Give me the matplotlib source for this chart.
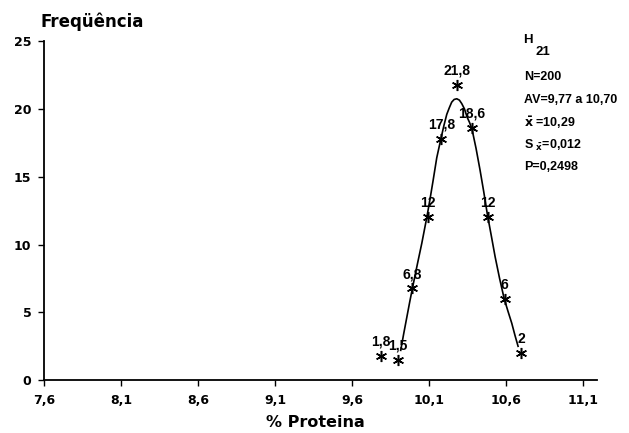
import matplotlib
matplotlib.use('Agg')
import matplotlib.pyplot as plt

# class midpoints (% protein) and observed frequency (%)
proteina = [9.79, 9.90, 9.99, 10.09, 10.18, 10.28, 10.38, 10.48, 10.59, 10.70]
frequencia = [1.8, 1.5, 6.8, 12, 17.8, 21.8, 18.6, 12, 6, 2]
rotulos = ['1,8', '1,5', '6,8', '12', '17,8', '21,8', '18,6', '12', '6', '2']

# smooth fitted curve
curva_x = [9.916, 9.935, 9.955, 9.975, 9.996, 10.025, 10.053, 10.087,
           10.107, 10.126, 10.150, 10.177, 10.197, 10.215, 10.232, 10.247,
           10.263, 10.280, 10.297, 10.312, 10.330, 10.347, 10.363, 10.379,
           10.405, 10.431, 10.455, 10.479, 10.505, 10.529, 10.558, 10.588,
           10.612, 10.637, 10.658, 10.678]
curva_y = [2.2, 3.4, 4.6, 5.8, 7.0, 8.6, 10.1, 12.1, 13.4, 14.7, 16.4,
           17.8, 18.8, 19.6, 20.1, 20.5, 20.7, 20.75, 20.65, 20.4, 20.0,
           19.4, 19.0, 18.5, 17.1, 15.5, 13.9, 12.2, 10.6, 9.1, 7.5, 6.0,
           5.1, 4.2, 3.3, 2.5]

xticks = [7.6, 8.1, 8.6, 9.1, 9.6, 10.1, 10.6, 11.1]
xtick_labels = ['7,6', '8,1', '8,6', '9,1', '9,6', '10,1', '10,6', '11,1']
yticks = [0, 5, 10, 15, 20, 25]

info = ['N=200', 'AV=9,77 a 10,70', r'$\bar{x}$ =10,29',
        r'S $_{\bar{x}}$=0,012', 'P=0,2498']

LIB = ['Liberation Sans', 'DejaVu Sans']
DJV = ['DejaVu Sans']


def main():
    plt.rcParams['font.family'] = LIB
    plt.rcParams['font.weight'] = 'bold'
    plt.rcParams['mathtext.default'] = 'bf'

    fig = plt.figure(figsize=(6.29, 4.33), dpi=100)
    ax = fig.add_axes([0.070, 0.122, 0.879, 0.783])

    ax.plot(curva_x, curva_y, color='black', lw=1.2)
    ax.plot(proteina, frequencia, linestyle='none', marker=(6, 2, 0),
            markersize=8, mew=1.1, color='black')
    for x, y, t in zip(proteina, frequencia, rotulos):
        ax.annotate(t, (x, y), xytext=(0, 5), textcoords='offset points',
                    ha='center', va='bottom', fontsize=10, fontweight='bold')

    ax.set_xlim(7.6, 11.19)
    ax.set_ylim(0, 25)
    ax.set_xticks(xticks)
    ax.set_xticklabels(xtick_labels)
    ax.set_yticks(yticks)
    for s in ['top', 'right']:
        ax.spines[s].set_visible(False)
    for s in ['left', 'bottom']:
        ax.spines[s].set_linewidth(1.3)
    ax.tick_params(direction='out', length=4, width=1)
    ax.tick_params(axis='x', pad=6)
    ax.tick_params(axis='y', pad=5)
    for lab in ax.get_xticklabels() + ax.get_yticklabels():
        lab.set_fontweight('bold')
        lab.set_family(DJV)
        lab.set_fontsize(9)

    fig.text(0.064, 0.949, 'Freqüência', fontsize=12, fontweight='bold',
             va='center', ha='left', family=DJV)
    fig.text(0.502, 0.025, '% Proteina', fontsize=11.5, fontweight='bold',
             va='center', ha='center', family=DJV)

    fig.text(0.831, 0.907, 'H', fontsize=9.5, fontweight='bold', va='center')
    fig.text(0.851, 0.880, '21', fontsize=9.5, fontweight='bold', va='center')
    ys = [77, 100, 123, 145, 167]
    for t, y in zip(info, ys):
        fig.text(0.833, 1 - y / 433, t, fontsize=9, fontweight='bold',
                 va='center', ha='left')

    fig.savefig('out.png', dpi=100)


if __name__ == '__main__':
    main()
